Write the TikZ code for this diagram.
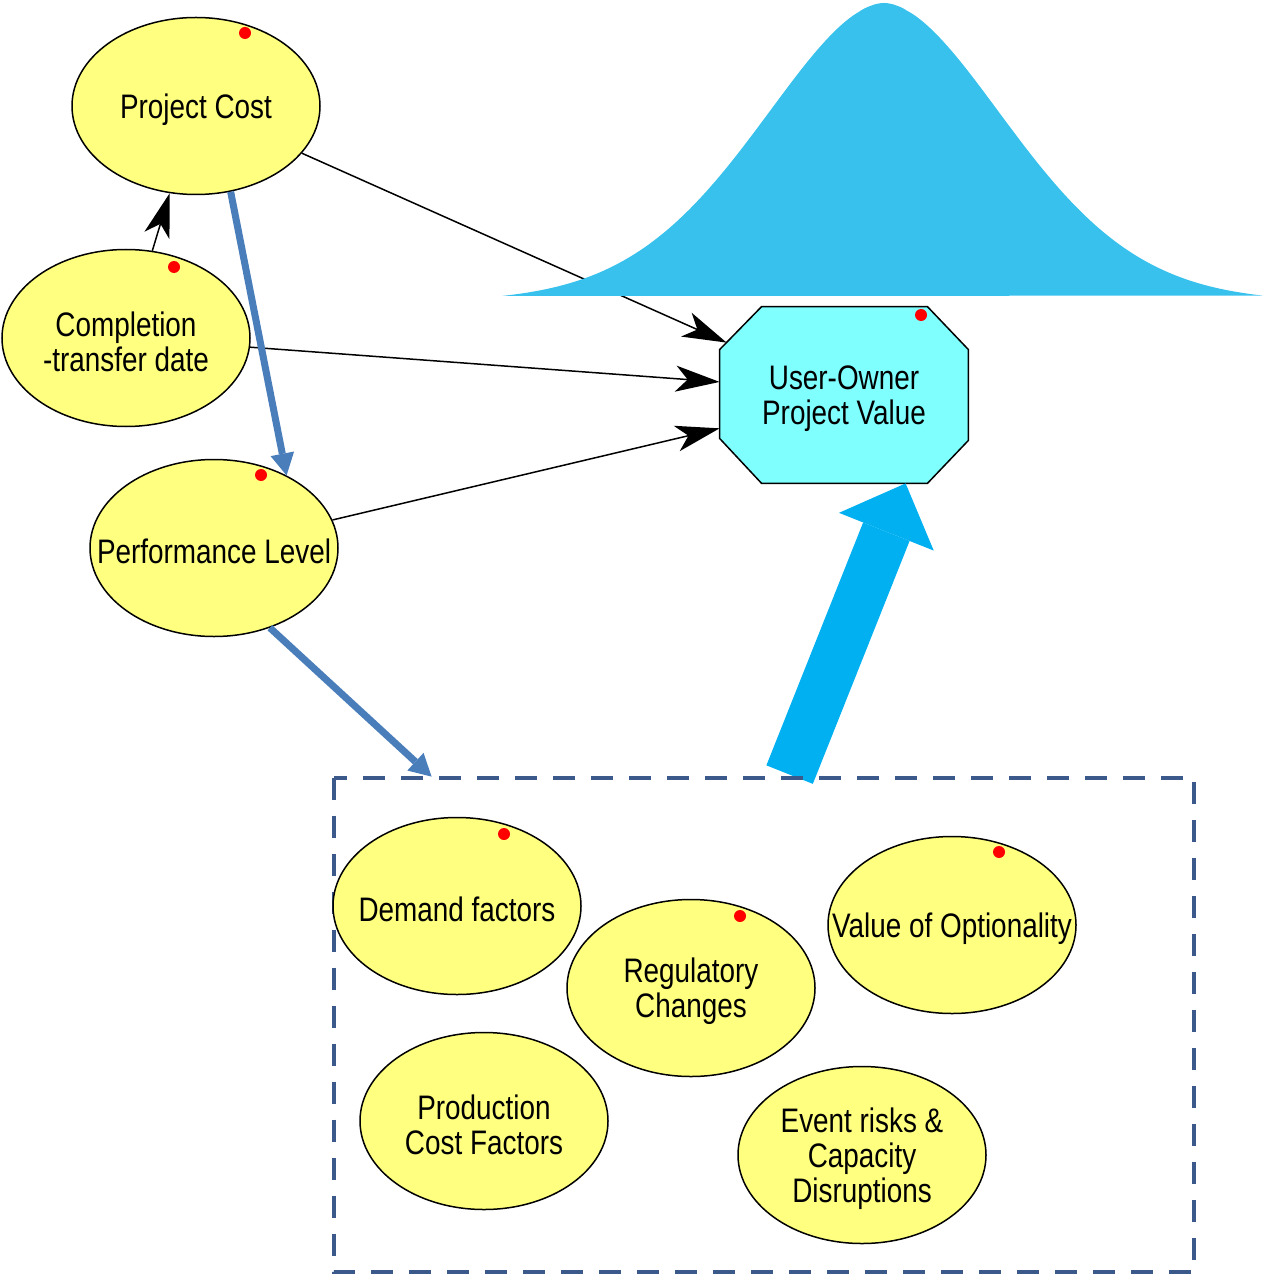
\documentclass[tikz,border=0pt]{standalone}
\usepackage{fontspec}
\setmainfont{Liberation Sans}[FakeStretch=0.82]
\usetikzlibrary{shapes.geometric,arrows.meta,calc,backgrounds}
\definecolor{yfill}{RGB}{255,255,128}
\definecolor{cfill}{RGB}{128,255,255}
\definecolor{bellblue}{RGB}{55,193,236}
\definecolor{bigblue}{RGB}{0,176,240}
\definecolor{linkblue}{RGB}{74,126,187}
\definecolor{framecol}{RGB}{59,89,138}

\begin{document}
\begin{tikzpicture}[x=0.5pt,y=-0.5pt,
  txt/.style={font=\fontsize{17}{17.5}\selectfont, align=center, text=black, yshift=-1.8pt},
  factor/.style={ellipse, draw=black, fill=yfill, line width=0.75pt,
                 minimum width=124pt, minimum height=88.5pt, inner sep=0pt},
  flag/.style={fill=red},
  thinarrow/.style={draw=black, line width=0.75pt,
                    -{Stealth[length=22pt,width=13pt,inset=6pt]}},
  link/.style={draw=linkblue, line width=3.5pt,
               -{Triangle[length=11pt,width=12pt,line width=0pt]}},
  bigarrow/.style={draw=bigblue, line width=25pt,
                   -{Triangle[length=26pt,width=51pt,line width=0pt]}},
  octa/.style={draw=black, fill=cfill, line width=0.75pt},
  framebox/.style={draw=framecol, line width=2pt, dash pattern=on 11pt off 8pt}
]
\useasboundingbox (0,0) rectangle (1263,1278);

% upper chain of factors
\node[factor, label={[txt]center:Project Cost}] (pc) at (196,106) {};
\node[factor, label={[txt]center:{Completion\\-transfer date}}] (cd) at (126,338) {};
\node[factor, label={[txt]center:Performance Level}] (pl) at (214,548) {};

% value node (octagon drawn behind its text)
\node[minimum width=124pt, minimum height=88pt, inner sep=0pt,
      label={[txt]center:{User-Owner\\Project Value}}] (uo) at (844,395) {};

% region holding the external factors
\node[minimum width=430pt, minimum height=247pt, inner sep=0pt] (box) at (764,1025) {};

\begin{pgfonlayer}{background}
  \draw[octa] ($(uo.north west)+(42,0)$) -- ($(uo.north east)+(-41,0)$)
    -- ($(uo.north east)+(0,43)$) -- ($(uo.south east)+(0,-43)$)
    -- ($(uo.south east)+(-41,0)$) -- ($(uo.south west)+(42,0)$)
    -- ($(uo.south west)+(0,-45)$) -- ($(uo.north west)+(0,43)$) -- cycle;
  \draw[bigarrow] ($(box.north west)+(456,-3)$) -- ($(uo.south west)+(186,0)$);
\end{pgfonlayer}

% influence of cost on value, partly hidden by the distribution
\draw[thinarrow] (pc) -- ($(uo.north west)+(7,36)$);

% value distribution
\fill[bellblue] plot[domain=502:1263, samples=240]
  (\x, {296 - 293*(exp(-pow(abs(\x-884)/178+0.0001,1.8)) - 0.019)/0.981}) -- cycle;

\draw[thinarrow] (cd) -- (uo.174.5);
\draw[thinarrow] (pl) -- (uo.195);
\draw[thinarrow] (cd) -- (pc);

\draw[link] (pc.-68) -- (pl.45);
\draw[link] (pl.-55) -- ($(box.north west)+(98,-1)$);

\draw[framebox] (box.north west) rectangle (box.south east);

% external factors
\node[factor, label={[txt]center:Demand factors}] (df) at (457,906) {};
\node[factor, label={[txt]center:{Regulatory\\Changes}}] (rc) at (691,988) {};
\node[factor, label={[txt]center:Value of Optionality}] (vo) at (952,925) {};
\node[factor, label={[txt]center:{Production\\Cost Factors}}] (pf) at (484,1121) {};
\node[factor, label={[txt]center:{Event risks \&\\Capacity\\Disruptions}}] (er) at (862,1155) {};

% markers
\fill[flag] ($(pc.center)+(49,-73)$) circle[radius=3pt];
\fill[flag] ($(cd.center)+(48,-71)$) circle[radius=3pt];
\fill[flag] ($(pl.center)+(47,-73)$) circle[radius=3pt];
\fill[flag] ($(uo.center)+(77,-80)$) circle[radius=3pt];
\fill[flag] ($(df.center)+(47,-72)$) circle[radius=3pt];
\fill[flag] ($(rc.center)+(49,-72)$) circle[radius=3pt];
\fill[flag] ($(vo.center)+(47,-73)$) circle[radius=3pt];
\end{tikzpicture}
\end{document}
